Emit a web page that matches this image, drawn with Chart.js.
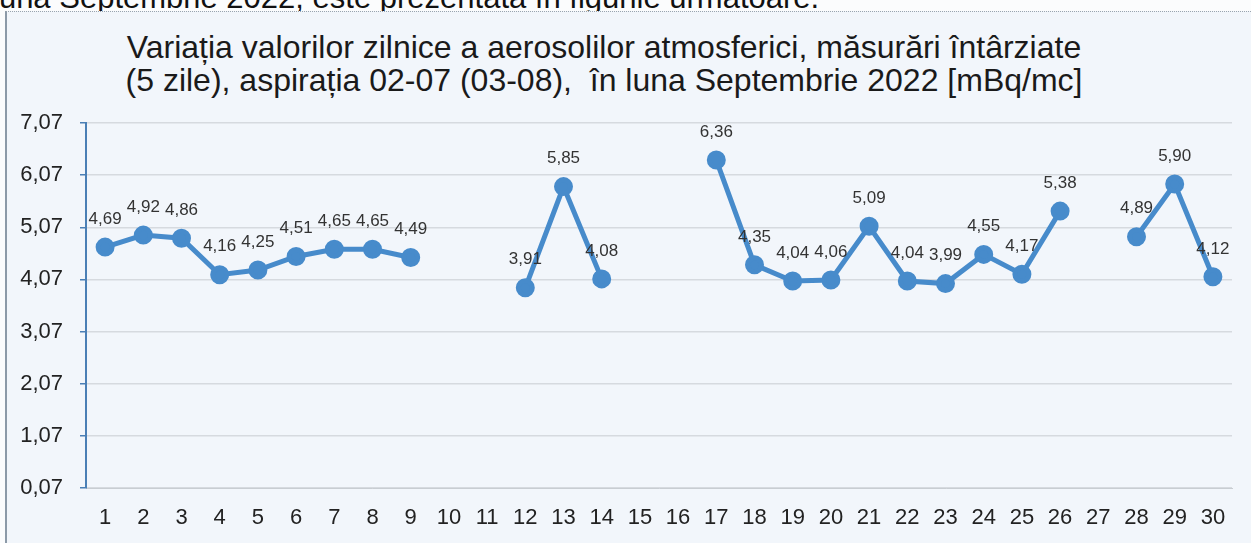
<!DOCTYPE html>
<html>
<head>
<meta charset="utf-8">
<script src="https://cdn.jsdelivr.net/npm/chart.js@4"></script>
<style>
  body { margin: 0; background: #fbfcfd; font-family: "Liberation Sans", Arial, sans-serif; }
  #page { position: relative; width: 1251px; height: 543px; overflow: hidden; }
  #intro { position: absolute; left: -8px; top: -20px; font-size: 31px; color: #111; white-space: nowrap; }
  #box { position: absolute; left: 5px; top: 11px; width: 1260px; height: 540px;
         background: #f2f6fb; border-left: 2px solid #8c9aa8; border-top: 1px dotted #9aa4ae; }
  #title { position: absolute; left: 104px; width: 1000px; top: 31px; text-align: center;
           font-size: 32px; line-height: 33px; color: #1a1a1a; }
  #wrap { position: absolute; left: 9px; top: 12px; width: 1242px; height: 531px; }
</style>
</head>
<body>
<div id="page">
  <div id="intro">luna Septembrie 2022, este prezentată în figurile următoare.</div>
  <div id="box"></div>
  <div id="title">Variația valorilor zilnice a aerosolilor atmosferici, măsurări întârziate<br>(5 zile), aspirația 02-07 (03-08),&nbsp; în luna Septembrie 2022 [mBq/mc]</div>
  <div id="wrap"><canvas id="myChart" width="1242" height="531"></canvas></div>
</div>
<script>
const days = ["1","2","3","4","5","6","7","8","9","10","11","12","13","14","15",
  "16","17","18","19","20","21","22","23","24","25","26","27","28","29","30"];
const values = [4.69, 4.92, 4.86, 4.16, 4.25, 4.51, 4.65, 4.65, 4.49, null, null,
  3.91, 5.85, 4.08, null, null, 6.36, 4.35, 4.04, 4.06, 5.09, 4.04, 3.99, 4.55,
  4.17, 5.38, null, 4.89, 5.90, 4.12];
const yTicks = [0.07, 1.07, 2.07, 3.07, 4.07, 5.07, 6.07, 7.07];

const fmt = v => v.toFixed(2).replace(".", ",");

// value labels above each point
const valueLabels = {
  id: "valueLabels",
  afterDatasetsDraw(chart) {
    const ctx = chart.ctx;
    const meta = chart.getDatasetMeta(0);
    ctx.save();
    ctx.font = "17px 'Liberation Sans', Arial, sans-serif";
    ctx.fillStyle = "#333";
    ctx.textAlign = "center";
    ctx.textBaseline = "middle";
    meta.data.forEach((pt, i) => {
      if (values[i] == null) return;
      ctx.fillText(fmt(values[i]), pt.x, pt.y - 28);
    });
    ctx.restore();
  }
};

const ctx = document.getElementById("myChart").getContext("2d");
new Chart(ctx, {
  type: "line",
  data: {
    labels: days,
    datasets: [{
      data: values,
      borderColor: "#478bcb",
      backgroundColor: "#478bcb",
      borderWidth: 5,
      pointRadius: 7,
      pointHoverRadius: 7,
      spanGaps: false,
      tension: 0
    }]
  },
  options: {
    responsive: false,
    animation: false,
    layout: { padding: { top: 111, right: 19, bottom: 0, left: 0 } },
    plugins: { legend: { display: false }, tooltip: { enabled: false } },
    scales: {
      x: {
        offset: true,
        afterFit: axis => { axis.height = 55; },
        grid: { display: false, drawTicks: false },
        border: { color: "#c8cdd2", width: 1 },
        ticks: { color: "#222", padding: 17, maxRotation: 0, autoSkip: false,
                 font: { size: 22, family: "'Liberation Sans', Arial, sans-serif" } }
      },
      y: {
        min: 0.07,
        max: 7.07,
        afterBuildTicks: axis => { axis.ticks = yTicks.map(v => ({ value: v })); },
        afterFit: axis => { axis.width = 77; },
        grid: { color: "#d6dadf", lineWidth: 1.5, tickLength: 6, tickColor: "#4a7fb5" },
        border: { color: "#4a7fb5", width: 2 },
        ticks: { color: "#222", padding: 17, callback: v => fmt(v),
                 font: { size: 22, family: "'Liberation Sans', Arial, sans-serif" } }
      }
    }
  },
  plugins: [valueLabels]
});
</script>
</body>
</html>
